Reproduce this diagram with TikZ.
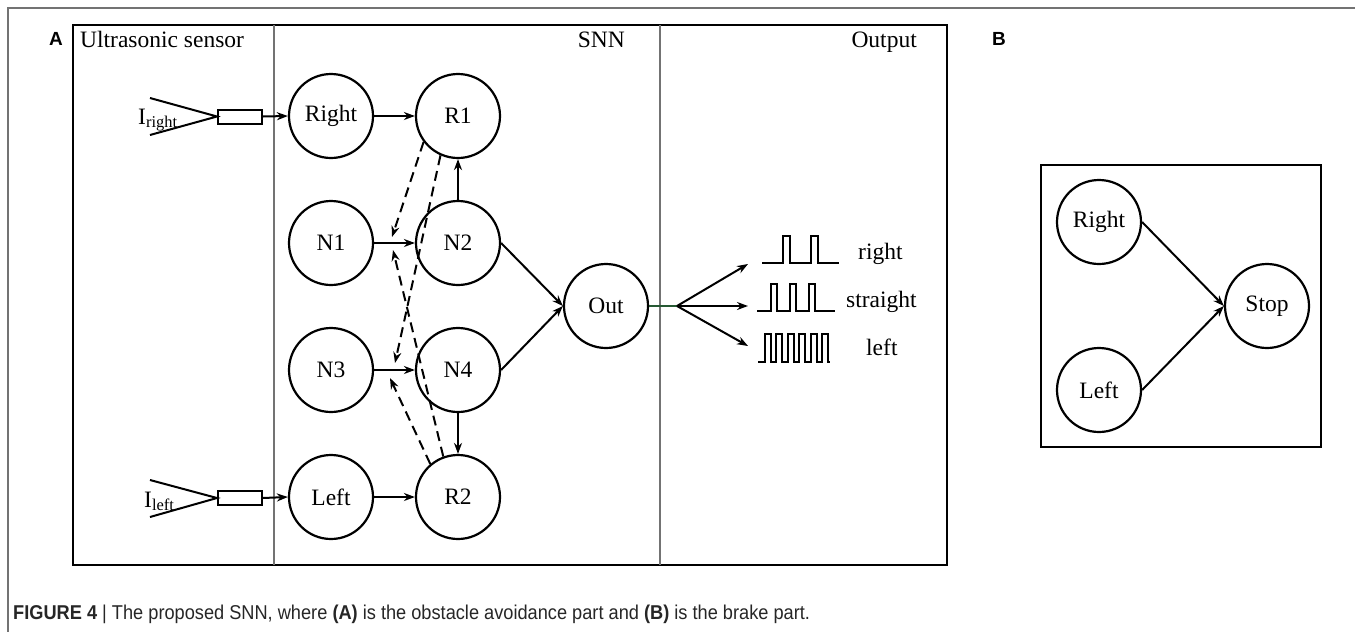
\documentclass[tikz,border=0pt]{standalone}
\usepackage{fontspec}
\setmainfont{Liberation Serif}
\newfontfamily\capfont[FakeStretch=0.91]{Liberation Sans}
\newfontfamily\tagfont{Liberation Sans}
\usetikzlibrary{arrows.meta,positioning}

\definecolor{fangreen}{rgb}{0.15,0.35,0.2}
\definecolor{rulegray}{gray}{0.45}

\begin{document}
\begin{tikzpicture}[x=1pt,y=-1pt,
    font=\fontsize{23.5}{27}\selectfont,
    neuron/.style={draw,circle,line width=2.2pt,minimum size=84pt,inner sep=0pt},
    arr/.style={-{Stealth[length=11pt,width=8pt]},line width=2pt},
    dasharr/.style={arr,dash pattern=on 10pt off 6pt},
    resbox/.style={draw,line width=2pt,minimum width=44pt,minimum height=14pt,inner sep=0pt},
    panel/.style={draw,line width=2.6pt},
    pulse/.style={line width=2.1pt}]
    \useasboundingbox (0,0) rectangle (1355,635);
    % page frame
    \draw[rulegray,line width=2pt] (1355,8) -- (8,8) -- (8,632);

    % panel A
    \draw[panel] (73,25) rectangle (947,565);
    \draw[rulegray,line width=1.1pt] (274,25) -- (274,565) (660,25) -- (660,565);
    \node[font=\tagfont\bfseries\fontsize{19}{21}\selectfont] (tagA) at (56,39) {A};
    \node[anchor=base west,inner sep=0pt] (hsens) at (80,47) {Ultrasonic sensor};
    \node[anchor=base east,inner sep=0pt] (hsnn) at (625,47) {SNN};
    \node[anchor=base east,inner sep=0pt] (hout) at (917,47) {Output};

    % neurons
    \foreach \lab/\nm [count=\r] in {Right/Rt,N1/N1,N3/N3,Left/Lt}
        \node[neuron] (\nm) at (331,{116+127*(\r-1)}) {\lab};
    \foreach \lab [count=\r] in {R1,N2,N4,R2}
        \node[neuron] (\lab) at (458,{116+127*(\r-1)}) {\lab};
    \node[neuron] (Out) at (606,306) {Out};

    % sensors
    \node[resbox] (Br) at (240,116.5) {};
    \node[resbox] (Bl) at (240,498) {};
    \coordinate (ra) at (150,98);
    \coordinate (rb) at (150,135);
    \coordinate (la) at (150,480);
    \coordinate (lb) at (150,517);
    \draw[line width=2pt] (ra) -- (Br.west) -- (rb);
    \draw[line width=2pt] (la) -- (Bl.west) -- (lb);
    \node[anchor=base west,inner sep=0pt] (Ir) at (138,124) {I\textsubscript{right}};
    \node[anchor=base west,inner sep=0pt] (Il) at (144,507) {I\textsubscript{left}};

    \draw[arr] (Br.east) -- (Rt.west);
    \draw[arr] (Bl.east) -- (Lt.west);
    \draw[arr] (Rt) -- (R1);
    \draw[arr] (N1) -- (N2);
    \draw[arr] (N3) -- (N4);
    \draw[arr] (Lt) -- (R2);
    \draw[arr] (N2.north) -- (R1.south);
    \draw[arr] (N4.south) -- (R2.north);
    \draw[arr] (N2.east) -- (Out.west);
    \draw[arr] (N4.east) -- (Out.west);

    % inhibitory links
    \coordinate (m1a) at (392,237);
    \coordinate (m1b) at (393,250);
    \coordinate (m3a) at (395,363);
    \coordinate (m3b) at (390,378);
    \draw[dasharr] (R1.217) -- (m1a);
    \draw[dasharr] (R1.246) -- (m3a);
    \draw[dasharr] (R2.130) -- (m3b);
    \draw[dasharr] (R2.110) -- (m1b);

    % output fan
    \coordinate (fan) at (677,306);
    \coordinate (pR) at (748,264);
    \coordinate (pS) at (748,306);
    \coordinate (pL) at (748,346);
    \draw[fangreen,line width=2pt] (Out.east) -- (fan);
    \draw[arr] (fan) -- (pR);
    \draw[arr] (fan) -- (pS);
    \draw[arr] (fan) -- (pL);

    % spike trains
    \draw[pulse] (762,263) \foreach \x in {783,811} { -- (\x,263) -- (\x,236) -- (\x+7,236) -- (\x+7,263) } -- (839,263);
    \draw[pulse] (757,311) \foreach \x in {771,790,809} { -- (\x,311) -- (\x,284) -- (\x+6,284) -- (\x+6,311) } -- (835,311);
    \draw[pulse] (758,362) \foreach \x in {765,776.4,787.8,799.2,810.6,822} { -- (\x,362) -- (\x,334) -- (\x+6,334) -- (\x+6,362) } -- (830,362);
    \node[anchor=base west,inner sep=0pt] (tR) at (858,259) {right};
    \node[anchor=base west,inner sep=0pt] (tS) at (846,307) {straight};
    \node[anchor=base west,inner sep=0pt] (tL) at (866,355) {left};

    % panel B
    \node[font=\tagfont\bfseries\fontsize{19}{21}\selectfont] (tagB) at (999,39) {B};
    \draw[panel] (1041,165) rectangle (1321,447);
    \node[neuron] (bRt) at (1099,222) {Right};
    \node[neuron] (bLt) at (1099,390) {Left};
    \node[neuron] (Stop) at (1267,306) {Stop};
    \draw[arr] (bRt.east) -- (Stop.west);
    \draw[arr] (bLt.east) -- (Stop.west);

    % caption
    \node[anchor=base west,inner sep=0pt,text=black!85,font=\capfont\fontsize{20}{22}\selectfont] (cap) at (13,619)
        {\textbf{FIGURE 4} | The proposed SNN, where \textbf{(A)} is the obstacle avoidance part and \textbf{(B)} is the brake part.};
\end{tikzpicture}
\end{document}
